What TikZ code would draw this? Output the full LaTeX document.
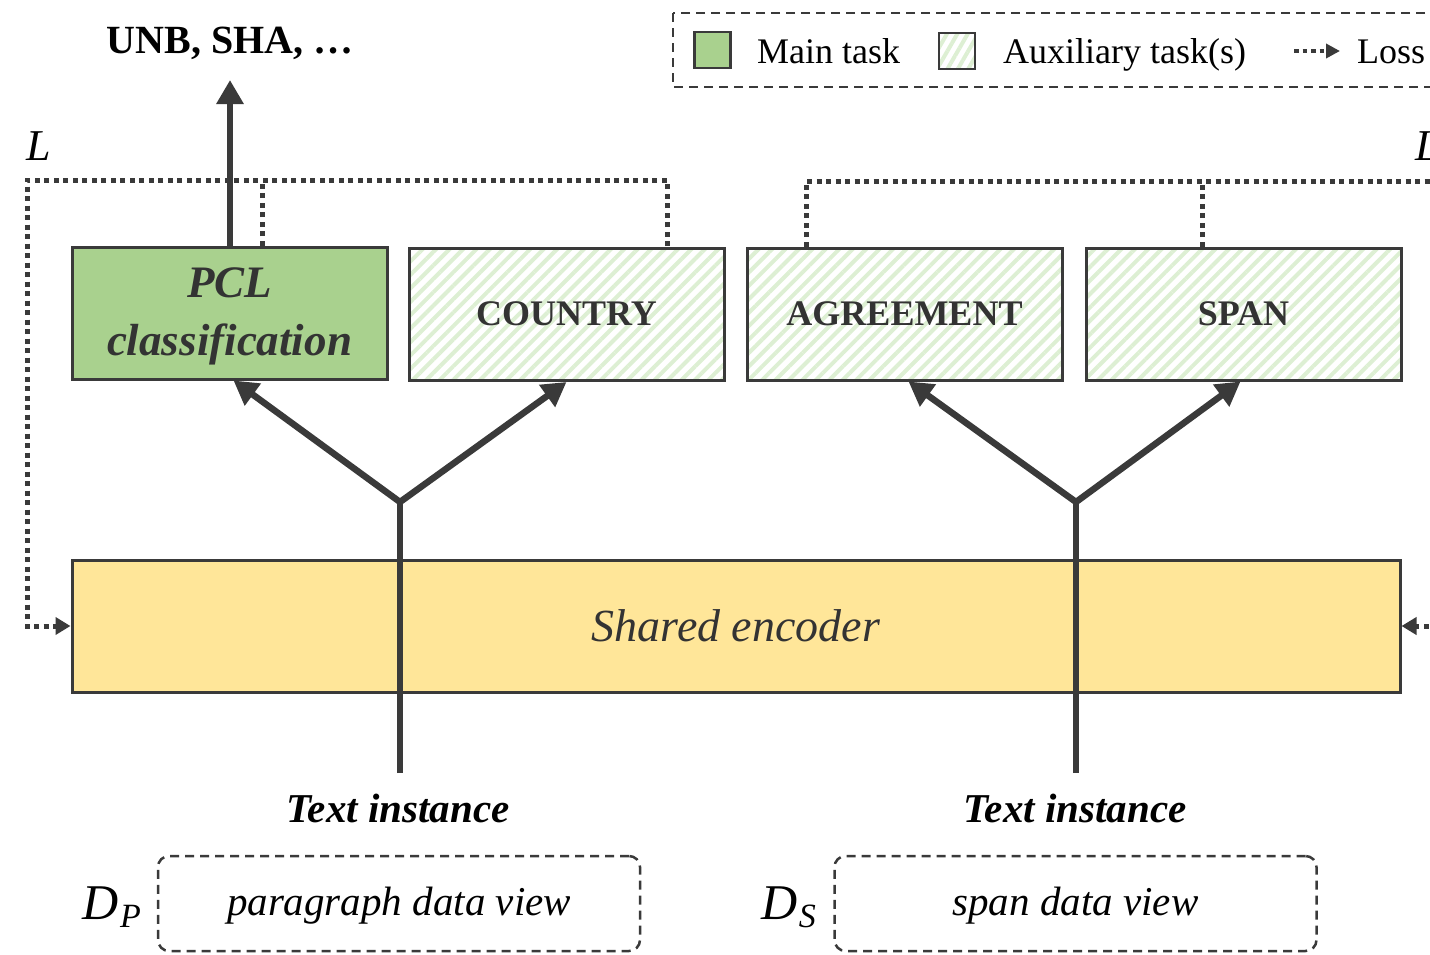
\documentclass[tikz,border=0pt]{standalone}
\usepackage{fontspec}
\setmainfont{Liberation Serif}
\usetikzlibrary{arrows.meta,patterns.meta,calc}

\definecolor{ink}{HTML}{3A3A3A}
\definecolor{txt}{HTML}{333333}
\definecolor{maingreen}{HTML}{A9D18E}
\definecolor{hatchgreen}{HTML}{DDEFD3}
\definecolor{encyellow}{HTML}{FFE699}

\newcommand\fsz[2]{\fontsize{#1}{#2}\selectfont}

\tikzset{
  task/.style={draw=ink, line width=3pt, minimum width=315pt, minimum height=132pt,
    inner sep=0pt, text=txt, align=center, font=\fsz{36}{40}\bfseries},
  maintask/.style={task, fill=maingreen},
  auxtask/.style={task, pattern={Lines[angle=45,distance=9.5pt,line width=4pt]},
    pattern color=hatchgreen},
  stem/.style={draw=ink, line width=6.5pt},
  flow/.style={stem, -{Triangle[length=24pt,width=26pt]}},
  loss/.style={draw=ink, line width=5pt, dash pattern=on 5pt off 4.5pt},
  lossarrow/.style={loss, -{Triangle[length=15pt,width=17pt]}},
  legendbox/.style={draw=ink, line width=2.5pt, dash pattern=on 9pt off 6pt},
  viewbox/.style={draw=ink, line width=2.5pt, dash pattern=on 9pt off 6pt,
    rounded corners=11pt, minimum width=482pt, minimum height=95pt, inner sep=0pt},
  viewtext/.style={inner sep=0pt, font=\fsz{41}{45}\itshape, text=black},
  label/.style={inner sep=0pt, text=black},
}

\begin{document}
\begin{tikzpicture}[x=1pt, y=-1pt]
  \useasboundingbox (0,0) rectangle (1430,954);
  \clip (0,0) rectangle (1430,954);

  % legend
  \draw[legendbox] (673,13) rectangle (1470,87);
  \node[draw=ink, line width=2.5pt, fill=maingreen, minimum size=36pt, inner sep=0pt]
    (lgmain) at (712.5,50) {};
  \node[label, anchor=base west, font=\fsz{36}{40}] (lgmaintxt) at (757,63) {Main task};
  \node[draw=ink, line width=2.5pt, minimum size=36pt, inner sep=0pt,
    pattern={Lines[angle=60,distance=9pt,line width=4pt]}, pattern color=hatchgreen]
    (lgaux) at (957,51) {};
  \node[label, anchor=base west, font=\fsz{36}{40}] (lgauxtxt) at (1003,63) {Auxiliary task(s)};
  \coordinate (lgl1) at (1294,51);
  \coordinate (lgl2) at (1340,51);
  \draw[draw=ink, line width=4.5pt, dash pattern=on 4.5pt off 4pt,
    -{Triangle[length=14pt,width=14pt]}] (lgl1) -- (lgl2);
  \node[label, anchor=base west, font=\fsz{36}{40}] (lglosstxt) at (1357,63) {Loss};

  % task heads
  \node[maintask] (pcl) at (229.5,313) {};
  \node[label, text=txt, align=center, font=\fsz{45}{58}\bfseries\itshape] (pcltxt)
    at ($(pcl.center)+(0,3)$) {PCL\\classification};
  \node[auxtask] (country) at (566.5,314) {COUNTRY};
  \node[auxtask] (agreement) at (904.5,314) {AGREEMENT};
  \node[auxtask] (span) at (1243.5,314) {SPAN};

  % shared encoder
  \node[draw=ink, line width=3pt, fill=encyellow, minimum width=1328pt, minimum height=132pt,
    inner sep=0pt, text=txt, font=\fsz{46}{50}\itshape] (enc) at (736,626) {Shared encoder};

  % main task output
  \coordinate (out) at (230,80);
  \draw[flow] (pcl.north -| out) -- (out);
  \node[label, font=\fsz{40}{44}\bfseries] (outtxt) at (230,43) {UNB, SHA, \ldots};

  % inputs and branching into the heads
  \coordinate (s1) at (400,773);
  \coordinate (j1) at (400,502);
  \coordinate (s2) at (1076,773);
  \coordinate (j2) at (1076,502);
  \draw[stem] (s1) -- (j1);
  \draw[stem] (s2) -- (j2);
  \draw[flow] (j1) -- ($(pcl.south)+(4,0)$);
  \draw[flow] (j1) -- (country.south);
  \draw[flow] (j2) -- ($(agreement.south)+(4,0)$);
  \draw[flow] (j2) -- ($(span.south)+(-3,0)$);

  \node[label, text=black, font=\fsz{41}{45}\bfseries\itshape] (ti1) at (398,808) {Text instance};
  \node[label, text=black, font=\fsz{41}{45}\bfseries\itshape] (ti2) at (1075,808) {Text instance};

  % loss feedback to the encoder
  \coordinate (lossTL) at (27,180);
  \coordinate (pdrop) at (262,0);
  \coordinate (cdrop) at (667,0);
  \draw[loss] (pcl.north -| pdrop) -- (pdrop |- lossTL);
  \draw[lossarrow] (country.north -| cdrop) |- (lossTL) |- (enc.west);

  \coordinate (lossTR) at (1470,181);
  \coordinate (adrop) at (806,0);
  \coordinate (sdrop) at (1202,0);
  \draw[loss] (span.north -| sdrop) -- (sdrop |- lossTR);
  \draw[lossarrow] (agreement.north -| adrop) |- (lossTR) |- (enc.east);

  \node[label, font=\fsz{44}{48}\itshape] (ll) at (39,146) {L};
  \node[label, font=\fsz{44}{48}\itshape] (lr) at (1428,146) {L};

  % data views
  \node[viewbox] (dvp) at (399,903.5) {};
  \node[viewtext] (dvptxt) at ($(dvp.center)+(0,2)$) {paragraph data view};
  \node[viewbox] (dvs) at (1075.5,903.5) {};
  \node[viewtext] (dvstxt) at ($(dvs.center)+(0,2)$) {span data view};
  \node[label, anchor=east, font=\fsz{50}{52}\itshape] (dp) at (141,907)
    {D\kern1pt\raisebox{-8pt}{\fsz{34}{36}P}};
  \node[label, anchor=east, font=\fsz{50}{52}\itshape] (ds) at (816,907)
    {D\kern1pt\raisebox{-8pt}{\fsz{34}{36}S}};
\end{tikzpicture}
\end{document}
